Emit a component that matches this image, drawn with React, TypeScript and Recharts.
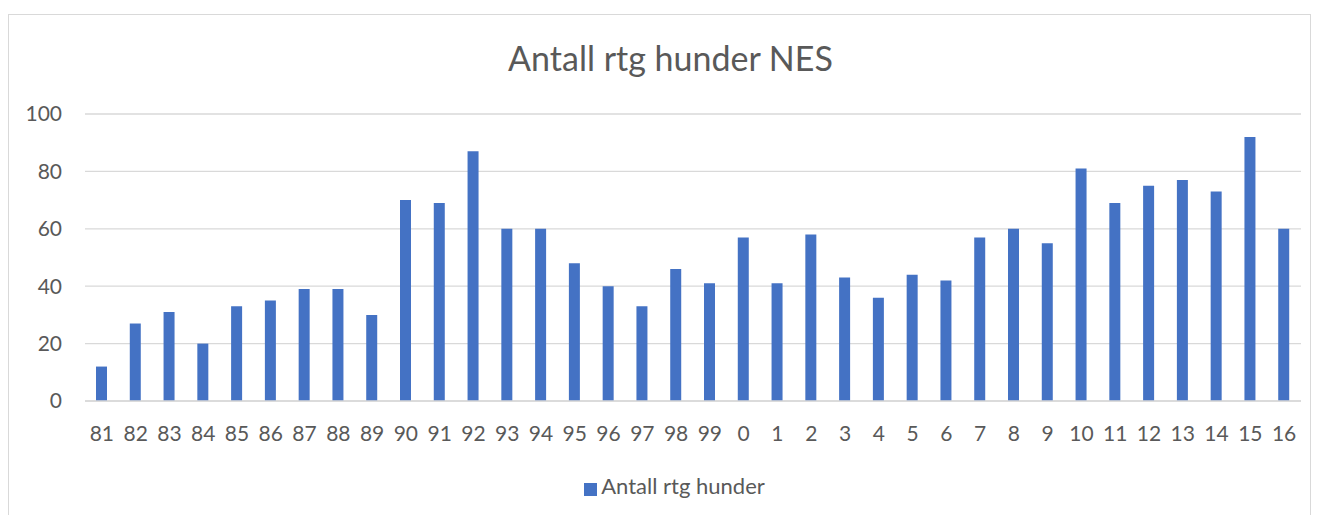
import React from "react";
import {
  BarChart,
  Bar,
  XAxis,
  YAxis,
  CartesianGrid,
  Legend,
} from "recharts";

const years = [
  "81", "82", "83", "84", "85", "86", "87", "88", "89", "90", "91", "92",
  "93", "94", "95", "96", "97", "98", "99", "0", "1", "2", "3", "4",
  "5", "6", "7", "8", "9", "10", "11", "12", "13", "14", "15", "16",
];

const antall = [
  12, 27, 31, 20, 33, 35, 39, 39, 30, 70, 69, 87,
  60, 60, 48, 40, 33, 46, 41, 57, 41, 58, 43, 36,
  44, 42, 57, 60, 55, 81, 69, 75, 77, 73, 92, 60,
];

const yTicks = [0, 20, 40, 60, 80, 100];

const data = years.map((aar, i) => ({ aar, antall: antall[i] }));

const FONT = "Lato, 'Open Sans', sans-serif";
const TEXT = "#595959";

export default function App() {
  return (
    <div
      style={{
        position: "fixed",
        left: 0,
        top: 0,
        width: 1321,
        height: 515,
        background: "#fff",
        fontFamily: FONT,
        overflow: "hidden",
      }}
    >
      <div
        style={{
          position: "absolute",
          left: 8,
          top: 14,
          width: 1303,
          height: 520,
          border: "1px solid #d9d9d9",
          boxSizing: "border-box",
        }}
      />
      <div
        style={{
          position: "absolute",
          left: 10,
          width: 1321,
          top: 36,
          textAlign: "center",
          fontSize: 34,
          color: TEXT,
          lineHeight: "44px",
        }}
      >
        Antall rtg hunder NES
      </div>
      <div style={{ position: "absolute", left: 0, top: 0 }}>
        <BarChart
          width={1321}
          height={515}
          data={data}
          margin={{ top: 87, right: 20, bottom: 0, left: 0 }}
          barCategoryGap={0}
        >
          <CartesianGrid
            vertical={false}
            stroke="#d9d9d9"
            strokeWidth={1.3}
          />
          <XAxis
            dataKey="aar"
            interval={0}
            height={114}
            tickLine={false}
            axisLine={{ stroke: "#d9d9d9", strokeWidth: 1.3 }}
            tick={{ fill: TEXT, fontSize: 21, fontFamily: FONT }}
            tickMargin={19}
          />
          <YAxis
            width={85}
            domain={[0, 100]}
            ticks={yTicks}
            tickLine={false}
            axisLine={false}
            tick={{ fill: TEXT, fontSize: 21, fontFamily: FONT }}
            tickMargin={17}
          />
          <Legend
            verticalAlign="top"
            align="center"
            iconType="square"
            iconSize={13}
            wrapperStyle={{ top: 472, left: 19, width: 1321 }}
            formatter={(value) => (
              <span style={{ color: TEXT, fontSize: 22, fontFamily: FONT }}>
                {value}
              </span>
            )}
          />
          <Bar
            dataKey="antall"
            name="Antall rtg hunder"
            fill="#4472c4"
            barSize={11}
            isAnimationActive={false}
          />
        </BarChart>
      </div>
    </div>
  );
}
